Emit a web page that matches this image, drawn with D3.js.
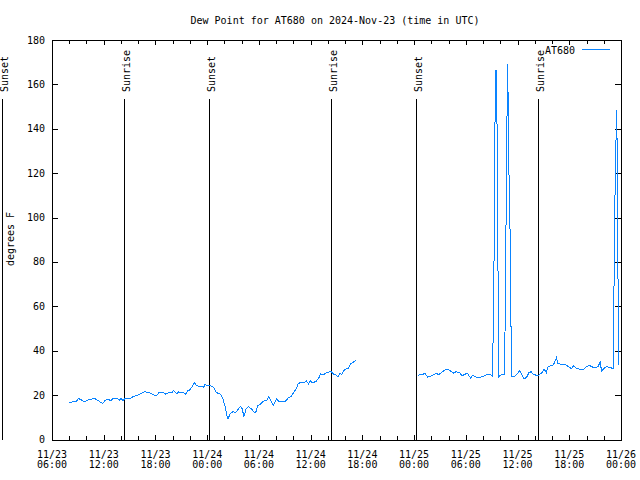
<!DOCTYPE html>
<html>
<head>
<meta charset="utf-8">
<script src="https://cdn.jsdelivr.net/npm/d3@7"></script>
<style>
  body { margin: 0; background: #fff; }
  svg { display: block; font-family: "DejaVu Sans Mono", monospace; font-size: 10px; }
</style>
</head>
<body>
<div id="chart"></div>
<script>
// readings (UTC), null marks the gap in the record
var times = [
  "2024-11-23 08:00","2024-11-23 08:50","2024-11-23 09:05","2024-11-23 09:25","2024-11-23 09:45",
  "2024-11-23 10:00","2024-11-23 10:30","2024-11-23 10:55","2024-11-23 11:15","2024-11-23 11:35",
  "2024-11-23 11:55","2024-11-23 12:10","2024-11-23 12:30","2024-11-23 12:50","2024-11-23 13:05",
  "2024-11-23 13:30","2024-11-23 13:50","2024-11-23 14:00","2024-11-23 14:15","2024-11-23 14:30",
  "2024-11-23 15:05","2024-11-23 15:25","2024-11-23 15:55","2024-11-23 16:15","2024-11-23 16:45",
  "2024-11-23 17:15","2024-11-23 17:45","2024-11-23 18:05","2024-11-23 18:25","2024-11-23 18:50",
  "2024-11-23 19:10","2024-11-23 19:30","2024-11-23 19:55","2024-11-23 20:05","2024-11-23 20:20",
  "2024-11-23 20:30","2024-11-23 20:40","2024-11-23 21:00","2024-11-23 21:15","2024-11-23 21:30",
  "2024-11-23 21:45","2024-11-23 22:00","2024-11-23 22:15","2024-11-23 22:30","2024-11-23 22:45",
  "2024-11-23 23:05","2024-11-23 23:20","2024-11-23 23:35","2024-11-23 23:45","2024-11-24 00:05",
  "2024-11-24 00:25","2024-11-24 00:45","2024-11-24 01:00","2024-11-24 01:15","2024-11-24 01:35",
  "2024-11-24 01:50","2024-11-24 02:05","2024-11-24 02:15","2024-11-24 02:25","2024-11-24 02:40",
  "2024-11-24 03:00","2024-11-24 03:15","2024-11-24 03:30","2024-11-24 03:45","2024-11-24 03:55",
  "2024-11-24 04:05","2024-11-24 04:15","2024-11-24 04:30","2024-11-24 04:45","2024-11-24 05:05",
  "2024-11-24 05:30","2024-11-24 05:40","2024-11-24 05:50","2024-11-24 06:10","2024-11-24 06:30",
  "2024-11-24 06:55","2024-11-24 07:10","2024-11-24 07:25","2024-11-24 07:40","2024-11-24 08:05",
  "2024-11-24 08:20","2024-11-24 08:40","2024-11-24 09:05","2024-11-24 09:25","2024-11-24 09:45",
  "2024-11-24 10:00","2024-11-24 10:20","2024-11-24 10:35","2024-11-24 10:55","2024-11-24 11:15",
  "2024-11-24 11:30","2024-11-24 11:45","2024-11-24 12:00","2024-11-24 12:10","2024-11-24 12:35",
  "2024-11-24 12:55","2024-11-24 13:10","2024-11-24 13:30","2024-11-24 13:45","2024-11-24 14:05",
  "2024-11-24 14:20","2024-11-24 14:40","2024-11-24 14:55","2024-11-24 15:10","2024-11-24 15:25",
  "2024-11-24 15:35","2024-11-24 15:50","2024-11-24 16:10","2024-11-24 16:25","2024-11-24 16:40",
  "2024-11-24 16:55","2024-11-24 17:15",
  "2024-11-24 20:00",
  "2024-11-25 00:30","2024-11-25 00:55","2024-11-25 01:15","2024-11-25 01:35","2024-11-25 01:55",
  "2024-11-25 02:20","2024-11-25 02:35","2024-11-25 02:50","2024-11-25 03:15","2024-11-25 03:35",
  "2024-11-25 03:55","2024-11-25 04:10","2024-11-25 04:35","2024-11-25 04:50","2024-11-25 05:15",
  "2024-11-25 05:35","2024-11-25 05:50","2024-11-25 06:10","2024-11-25 06:20","2024-11-25 06:35",
  "2024-11-25 06:45","2024-11-25 07:00","2024-11-25 07:15","2024-11-25 07:40","2024-11-25 08:05",
  "2024-11-25 08:30","2024-11-25 08:50","2024-11-25 09:05","2024-11-25 09:15","2024-11-25 09:20",
  "2024-11-25 09:30","2024-11-25 09:40","2024-11-25 09:45","2024-11-25 09:50","2024-11-25 10:10",
  "2024-11-25 10:30","2024-11-25 10:35","2024-11-25 10:45","2024-11-25 10:50","2024-11-25 10:55",
  "2024-11-25 11:00","2024-11-25 11:10","2024-11-25 11:15","2024-11-25 11:20","2024-11-25 11:40",
  "2024-11-25 11:55","2024-11-25 12:15","2024-11-25 12:30","2024-11-25 12:45","2024-11-25 13:05",
  "2024-11-25 13:20","2024-11-25 13:35","2024-11-25 13:45","2024-11-25 14:00","2024-11-25 14:20",
  "2024-11-25 14:30","2024-11-25 14:50","2024-11-25 15:05","2024-11-25 15:20","2024-11-25 15:30",
  "2024-11-25 15:45","2024-11-25 16:05","2024-11-25 16:15","2024-11-25 16:30","2024-11-25 16:40",
  "2024-11-25 17:05","2024-11-25 17:30","2024-11-25 17:55","2024-11-25 18:15","2024-11-25 18:30",
  "2024-11-25 18:45","2024-11-25 19:10","2024-11-25 19:40","2024-11-25 20:00","2024-11-25 20:20",
  "2024-11-25 20:35","2024-11-25 21:00","2024-11-25 21:20","2024-11-25 21:35","2024-11-25 21:45",
  "2024-11-25 22:00","2024-11-25 22:20","2024-11-25 22:45","2024-11-25 23:05","2024-11-25 23:10",
  "2024-11-25 23:20","2024-11-25 23:30","2024-11-25 23:35","2024-11-25 23:40","2024-11-25 23:45"
];
var dewPoints = [
  16.7,17.2,18.5,17.8,16.9, 17.6,18.1,18.5,17.8,16.9, 16.3,17.6,18.1,17.5,18.4,
  18.5,17.8,18.4,17.6,18.5, 18.5,19.3,19.9,20.6,21.5, 21.2,20.3,19.6,21.2,21.2,
  20.5,21.1,21.2,22.0,21.2, 20.5,21.5,21.2,21.1,20.5, 22.0,22.4,23.8,25.6,24.4,
  23.8,23.9,23.5,24.8,24.2, 24.2,23.5,21.5,20.8,20.3, 18.2,14.8,11.3,9.1,11.8,
  12.5,12.1,13.0,14.5,14.8, 13.6,10.3,13.6,14.8,14.0, 12.1,12.5,15.2,15.8,17.2,
  17.8,19.3,17.3,15.5,18.4, 16.9,16.9,17.3,18.8,19.3, 21.1,22.9,25.3,25.7,25.7,
  26.5,25.1,26.5,25.7,26.0, 27.5,29.6,29.2,29.9,30.4, 30.7,29.5,29.2,28.1,29.8,
  29.2,31.0,32.0,32.2,34.3, 34.7,35.8,
  null,
  29.0,29.2,29.8,28.1,28.6, 29.3,29.8,29.2,30.4,31.4, 31.6,31.0,29.9,30.5,30.2,
  28.7,29.3,29.8,29.0,27.4, 29.0,28.6,28.1,28.1,28.6, 29.3,29.2,28.6,62.8,132.0,
  166.7,132.0,62.8,28.3,29.4, 29.4,63.7,133.7,169.3,152.0, 121.3,86.0,47.0,28.5,28.6,
  29.3,31.0,29.3,27.2,28.3, 30.2,30.5,29.6,29.2,28.6, 29.0,30.2,31.7,30.2,32.5,
  33.1,33.5,34.3,36.8,34.3, 33.8,33.8,32.8,32.0,33.1, 32.3,31.7,31.7,32.8,33.5,
  32.8,32.3,32.8,34.9,30.8, 32.0,32.8,32.4,32.0,61.3, 119.8,148.6,119.8,62.5,33.5
];

var eventTimes = ["2024-11-23 00:13","2024-11-23 14:21","2024-11-24 00:13",
                  "2024-11-24 14:20","2024-11-25 00:11","2024-11-25 14:25"];
var eventLabels = ["Sunset","Sunrise","Sunset","Sunrise","Sunset","Sunrise"];

var yTicks = [0, 20, 40, 60, 80, 100, 120, 140, 160, 180];
var xStart = "2024-11-23 06:00";
var xEnd = "2024-11-26 00:00";

var WIDTH = 640, HEIGHT = 480;
var LEFT = 52, RIGHT = 621, TOP = 40, BOTTOM = 439.5;
var LINE_COLOR = "#0a84ff";

var parse = d3.utcParse("%Y-%m-%d %H:%M");
var data = times.map(function(t, i) { return { t: parse(t), v: dewPoints[i] }; });

var x = d3.scaleUtc().domain([parse(xStart), parse(xEnd)]).range([LEFT, RIGHT]);
var y = d3.scaleLinear().domain([0, 180]).range([BOTTOM, TOP]);

var svg = d3.select("#chart").append("svg")
    .attr("width", WIDTH)
    .attr("height", HEIGHT);

// title
svg.append("text")
    .attr("x", 335).attr("y", 23.5)
    .attr("text-anchor", "middle")
    .text("Dew Point for AT680 on 2024-Nov-23 (time in UTC)");

// y label
svg.append("text")
    .attr("transform", "translate(14,239) rotate(-90)")
    .attr("text-anchor", "middle")
    .text("degrees F");

var axes = svg.append("g").attr("stroke", "#000").attr("shape-rendering", "crispEdges");

// y ticks, both sides
yTicks.forEach(function(v) {
    var yy = Math.round(y(v)) + 0.5;
    if (v > 0 && v < 180) {
        axes.append("line").attr("x1", LEFT).attr("x2", LEFT + 6).attr("y1", yy).attr("y2", yy);
        axes.append("line").attr("x1", RIGHT - 6).attr("x2", RIGHT).attr("y1", yy).attr("y2", yy);
    }
    svg.append("text")
        .attr("x", LEFT - 7).attr("y", y(v) + 3.5)
        .attr("text-anchor", "end")
        .text(v);
});

// x ticks: minor every 2h, major every 6h
var minor = d3.utcHour.every(2).range(x.domain()[0], x.domain()[1]);
minor.forEach(function(d) {
    var xx = Math.round(x(d)) + 0.5;
    var len = d.getUTCHours() % 6 === 0 ? 5 : 4;
    axes.append("line").attr("x1", xx).attr("x2", xx).attr("y1", BOTTOM).attr("y2", BOTTOM - len);
    axes.append("line").attr("x1", xx).attr("x2", xx).attr("y1", TOP).attr("y2", TOP + len);
});

var major = d3.utcHour.every(6).range(x.domain()[0], new Date(+x.domain()[1] + 1));
var fmtDay = d3.utcFormat("%m/%d"), fmtHour = d3.utcFormat("%H:%M");
major.forEach(function(d) {
    var lbl = svg.append("text").attr("text-anchor", "middle");
    lbl.append("tspan").attr("x", x(d)).attr("y", 458).text(fmtDay(d));
    lbl.append("tspan").attr("x", x(d)).attr("y", 468).text(fmtHour(d));
});

// frame
axes.append("rect")
    .attr("x", LEFT + 0.5).attr("y", TOP + 0.5)
    .attr("width", RIGHT - LEFT).attr("height", BOTTOM - TOP)
    .attr("fill", "none");

// sunrise / sunset markers
eventTimes.forEach(function(t, i) {
    var xx = Math.round(x(parse(t))) + 0.5;
    axes.append("line")
        .attr("x1", xx).attr("x2", xx)
        .attr("y1", 99).attr("y2", BOTTOM);
    svg.append("text")
        .attr("transform", "translate(" + (xx + 5) + ",92) rotate(-90)")
        .text(eventLabels[i]);
});

// data line (aliased like the original)
var line = d3.line()
    .defined(function(d) { return d.v != null; })
    .x(function(d) { return x(d.t); })
    .y(function(d) { return y(d.v); });

svg.append("path")
    .datum(data)
    .attr("fill", "none")
    .attr("stroke", LINE_COLOR)
    .attr("stroke-width", 1)
    .attr("shape-rendering", "crispEdges")
    .attr("d", line);

// legend
svg.append("text")
    .attr("x", 575).attr("y", 53.5)
    .attr("text-anchor", "end")
    .text("AT680");
svg.append("line")
    .attr("x1", 582).attr("x2", 610)
    .attr("y1", 49.5).attr("y2", 49.5)
    .attr("stroke", LINE_COLOR);
</script>
</body>
</html>
